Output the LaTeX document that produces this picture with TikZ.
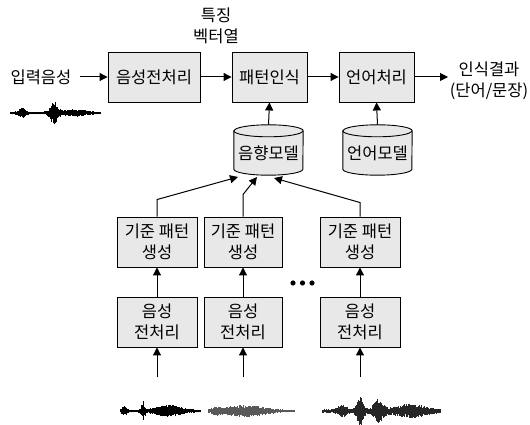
\documentclass[tikz,border=0pt]{standalone}
\usepackage{fontspec}
\setmainfont{Noto Sans CJK KR}
\usetikzlibrary{arrows.meta}

\definecolor{boxfill}{HTML}{E8E8E8}

\tikzset{
  procbox/.style={draw=black, line width=0.9pt, fill=boxfill, minimum height=50pt,
    inner sep=1pt, align=center, font=\fontsize{16.5}{21.5}\selectfont},
  dbshape/.style={minimum width=69pt, minimum height=50pt, inner sep=0pt},
  lbl/.style={align=center, inner sep=0pt, font=\fontsize{16.5}{21.5}\selectfont},
  flow/.style={line width=1pt, -{Triangle[length=8pt,width=8pt]}},
}

% vertical-stroke waveform: #1 x start, #2 x end, #3 y centre, #4 envelope in \xx, #5 colour
\newcommand{\wavform}[5]{%
  \draw[#5, line width=1.4pt] (#1,#3) -- (#2,#3);
  \foreach \xx in {#1,#1.5,...,#2} {
    \pgfmathsetmacro\amp{(#4)*(0.45+0.55*rnd)}
    \pgfmathsetmacro\ampb{(#4)*(0.45+0.55*rnd)}
    \draw[#5, line width=0.8pt] (\xx,#3-\ampb) -- (\xx,#3+\amp);
  }%
}

\begin{document}
\begin{tikzpicture}[x=1pt,y=1pt]
\useasboundingbox (0,0) rectangle (530,425);
\pgfmathsetseed{4711}

% main chain
\node[procbox, minimum width=92pt] (pre)  at (154,348)   {음성전처리};
\node[procbox, minimum width=75pt] (pat)  at (269.5,348) {패턴인식};
\node[procbox, minimum width=75pt] (lang) at (376.5,348) {언어처리};

\node[lbl] (in)  at (41,348) {입력음성};
\node[lbl] (out) at (489,344) {인식결과\\(단어/문장)};
\node[lbl] (feat) at (216,399) {특징\\벡터열};

\coordinate (inend) at (80,348);
\coordinate (outend) at (448,348);
\draw[flow] (inend) -- (pre.west);
\draw[flow] (pre) -- (pat);
\draw[flow] (pat) -- (lang);
\draw[flow] (lang.east) -- (outend);

% model databases
\node[dbshape] (am) at (268.5,275) {};
\node[dbshape] (lm) at (377.5,275) {};
\foreach \db in {am,lm} {
  \path[draw=black, line width=0.9pt, fill=boxfill]
    ([yshift=-6pt]\db.north west) -- ([yshift=6pt]\db.south west)
    arc[start angle=180, end angle=360, x radius=34.5pt, y radius=6pt]
    -- ([yshift=-6pt]\db.north east)
    arc[start angle=0, end angle=180, x radius=34.5pt, y radius=6pt] -- cycle;
  \draw[line width=0.9pt] ([yshift=-6pt]\db.north west)
    arc[start angle=180, end angle=360, x radius=34.5pt, y radius=6pt];
}
\node[lbl] (amt) at ([yshift=-3pt]am.center) {음향모델};
\node[lbl] (lmt) at ([yshift=-3pt]lm.center) {언어모델};

\draw[flow] (am.north) -- (pat.south);
\draw[flow] (lm.north) -- (lang.south);

% reference pattern branches
\node[procbox, minimum width=80pt] (g1) at (157,183) {기준 패턴\\생성};
\node[procbox, minimum width=78pt] (g2) at (243,183) {기준 패턴\\생성};
\node[procbox, minimum width=80pt] (g3) at (360,183) {기준 패턴\\생성};

\node[procbox, minimum width=80pt] (p1) at (157,103) {음성\\전처리};
\node[procbox, minimum width=78pt] (p2) at (243,103) {음성\\전처리};
\node[procbox, minimum width=80pt] (p3) at (360,103) {음성\\전처리};

\coordinate (t1) at (238,248);
\coordinate (t2) at (257,248);
\coordinate (t3) at (274,247);
\draw[flow] (g1.north) -- ++(0,17) -- (t1);
\draw[flow] (g2.north) -- ++(0,22) -- (t2);
\draw[flow] (g3.north) -- ++(0,14) -- (t3);

\foreach \i in {1,2,3} {
  \draw[flow] (p\i) -- (g\i);
  \coordinate (s\i) at ([yshift=-30pt]p\i.south);
  \draw[flow] (s\i) -- (p\i.south);
}

% ellipsis
\foreach \dx in {293,302.5,312} \fill (\dx,142) circle[radius=2.6pt];

% waveforms
\wavform{10}{100}{312}{1.4+4*exp(-((\xx-22)/4)^2)+10*exp(-((\xx-54)/5)^2)+2.5*exp(-((\xx-75)/12)^2)}{black}
\wavform{120}{200}{14}{1.4+3.5*exp(-((\xx-124)/3)^2)+9*exp(-((\xx-143)/2)^2)+5*exp(-((\xx-168)/15)^2)}{black}
\wavform{208}{294}{14}{1.2+5*exp(-((\xx-245)/25)^2)+2.5*exp(-((\xx-216)/5)^2)}{black!65}
\wavform{322}{440}{14}{1.8+4.5*exp(-((\xx-342)/6)^2)+14*exp(-((\xx-360)/4)^2)+10*exp(-((\xx-378)/6)^2)+5.5*exp(-((\xx-410)/20)^2)}{black!85}
\end{tikzpicture}
\end{document}
